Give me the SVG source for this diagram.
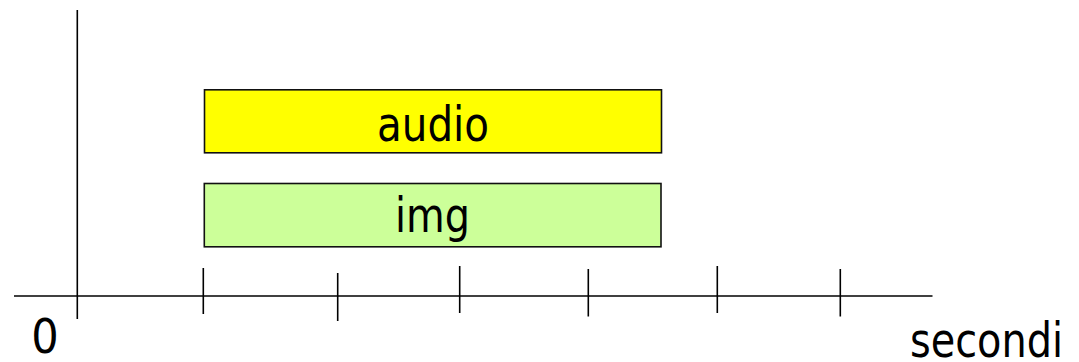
<svg xmlns="http://www.w3.org/2000/svg" width="1079" height="362" viewBox="0 0 1079 362">
  <style>
    .axis { stroke: #000; stroke-width: 1.6; fill: none; }
    .bar { stroke: #111; stroke-width: 1.6; }
    .lbl { font-family: "DejaVu Sans Condensed", "DejaVu Sans", sans-serif; font-size: 48px; fill: #000; }
  </style>
  <rect width="1079" height="362" fill="#fff"/>
  <g id="axes">
    <line class="axis" x1="77.3" y1="10" x2="77.3" y2="319"/>
    <line class="axis" x1="14" y1="296" x2="932.5" y2="296"/>
    <line class="axis" x1="203.3" y1="268" x2="203.3" y2="314"/>
    <line class="axis" x1="337.7" y1="273" x2="337.7" y2="321"/>
    <line class="axis" x1="459.7" y1="266" x2="459.7" y2="313"/>
    <line class="axis" x1="588.3" y1="269" x2="588.3" y2="316.5"/>
    <line class="axis" x1="717.3" y1="266" x2="717.3" y2="313"/>
    <line class="axis" x1="840.3" y1="269" x2="840.3" y2="316.5"/>
  </g>
  <g id="audio">
    <rect class="bar" x="204.5" y="89.8" width="457" height="63" fill="#ffff00"/>
    <text class="lbl" x="433" y="141" text-anchor="middle" textLength="112" lengthAdjust="spacingAndGlyphs">audio</text>
  </g>
  <g id="img">
    <rect class="bar" x="204.3" y="183.5" width="456.7" height="63.3" fill="#ccff99"/>
    <text class="lbl" x="432.5" y="231.7" text-anchor="middle" textLength="75" lengthAdjust="spacingAndGlyphs">img</text>
  </g>
  <g id="labels">
    <text class="lbl" x="45" y="353" text-anchor="middle">0</text>
    <text class="lbl" x="910" y="356.5" textLength="153" lengthAdjust="spacingAndGlyphs">secondi</text>
  </g>
</svg>
